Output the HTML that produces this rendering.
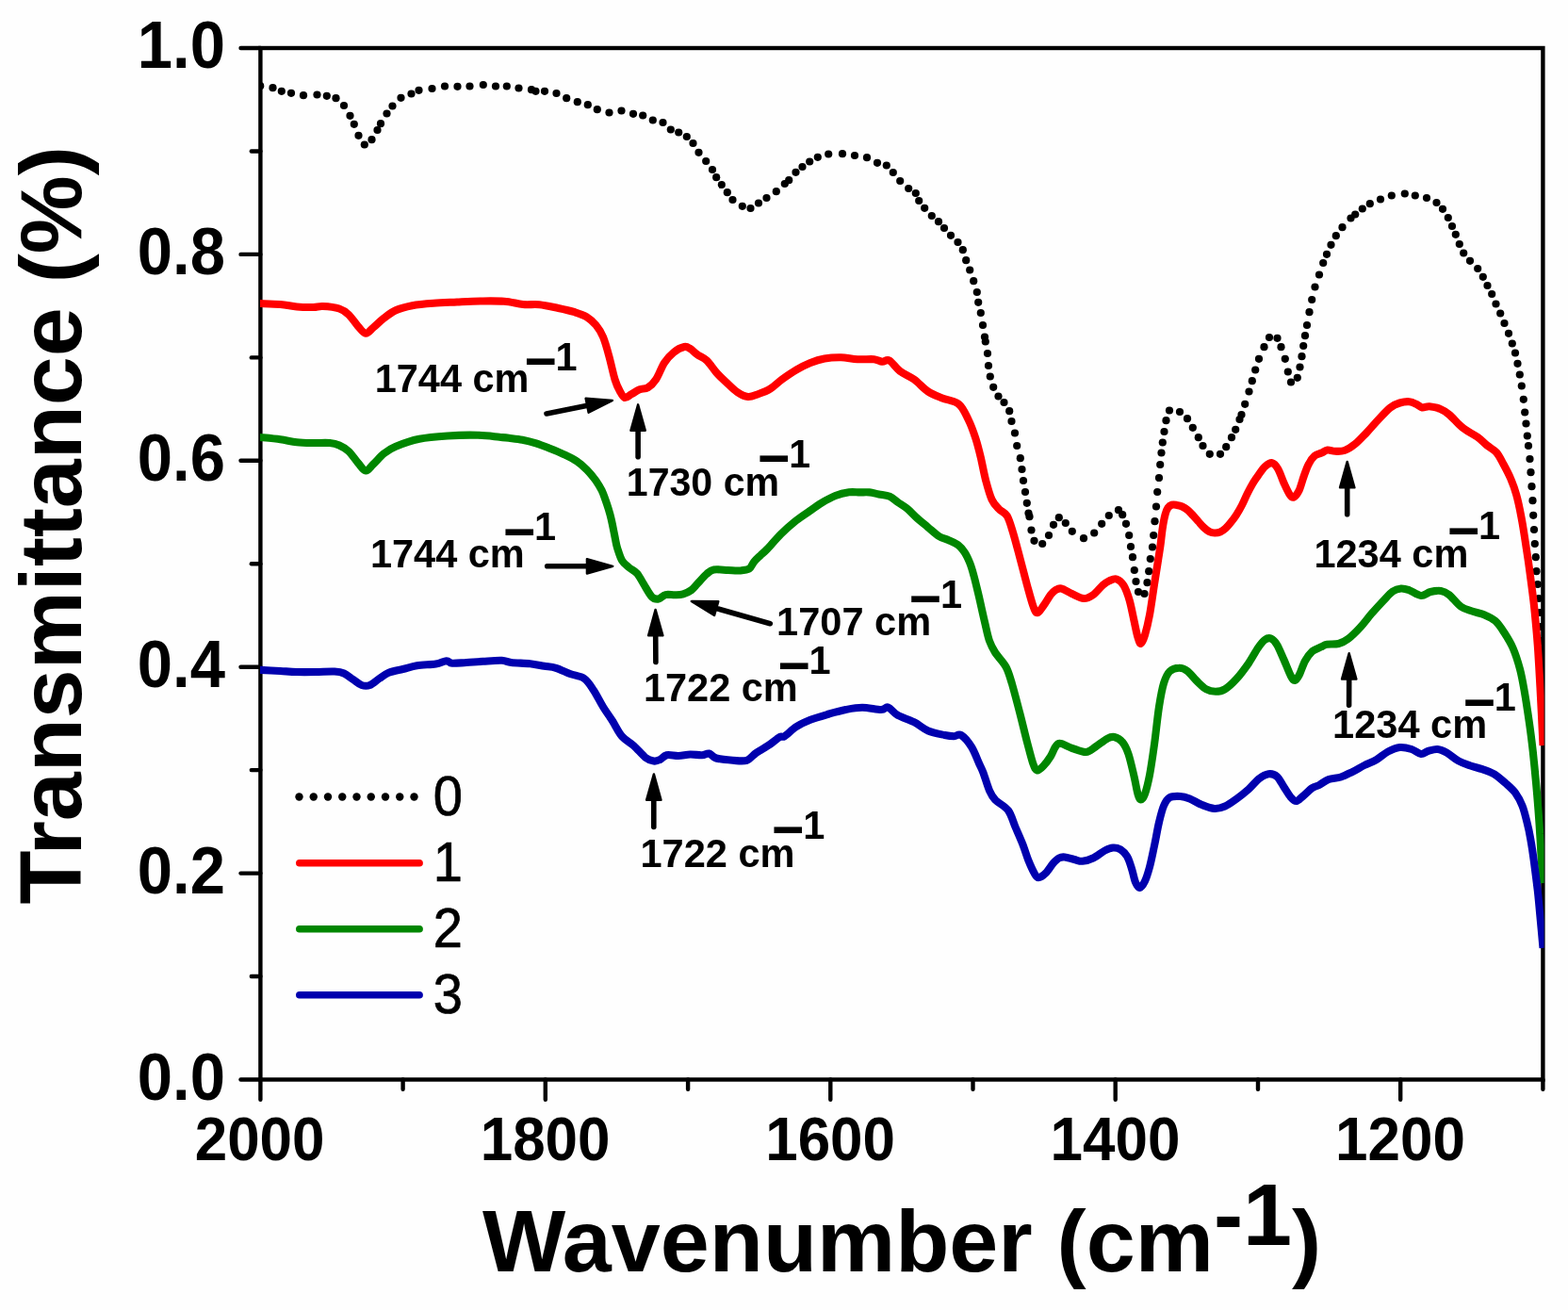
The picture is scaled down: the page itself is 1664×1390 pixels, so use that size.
<!DOCTYPE html>
<html lang="en"><head><meta charset="utf-8"><title>FTIR Transmittance</title>
<style>
html,body{margin:0;padding:0;background:#fff;}
body{width:1664px;height:1390px;overflow:hidden;}
svg{display:block;}
text{font-family:"Liberation Sans",sans-serif;fill:#000;}
.tk{font-weight:bold;font-size:67px;}
.tx{font-weight:bold;font-size:62px;}
.ax{font-weight:bold;font-size:93.5px;}
.ay{font-weight:bold;font-size:93.4px;}
.ann{font-weight:bold;font-size:41.5px;}
.lg{font-size:56px;stroke:#000;stroke-width:0.7px;}
</style></head><body>
<svg width="1664" height="1390" viewBox="0 0 1664 1390">
<rect width="1664" height="1390" fill="#fefefe"/>
<defs><clipPath id="cp"><rect x="276.0" y="40" width="1362.6" height="1105"/></clipPath></defs>

<g stroke="#000" stroke-width="4.4" fill="none" stroke-linecap="round">
<rect x="276.4" y="51.0" width="1361.0" height="1094.5" stroke-linejoin="miter"/>
<line x1="255.5" y1="1145.5" x2="276.4" y2="1145.5"/>
<line x1="266.8" y1="1036.0" x2="276.4" y2="1036.0"/>
<line x1="255.5" y1="926.6" x2="276.4" y2="926.6"/>
<line x1="266.8" y1="817.1" x2="276.4" y2="817.1"/>
<line x1="255.5" y1="707.7" x2="276.4" y2="707.7"/>
<line x1="266.8" y1="598.2" x2="276.4" y2="598.2"/>
<line x1="255.5" y1="488.8" x2="276.4" y2="488.8"/>
<line x1="266.8" y1="379.4" x2="276.4" y2="379.4"/>
<line x1="255.5" y1="269.9" x2="276.4" y2="269.9"/>
<line x1="266.8" y1="160.5" x2="276.4" y2="160.5"/>
<line x1="255.5" y1="51.0" x2="276.4" y2="51.0"/>
<line x1="276.4" y1="1145.5" x2="276.4" y2="1166.7"/>
<line x1="427.6" y1="1145.5" x2="427.6" y2="1155.7"/>
<line x1="578.8" y1="1145.5" x2="578.8" y2="1166.7"/>
<line x1="730.1" y1="1145.5" x2="730.1" y2="1155.7"/>
<line x1="881.3" y1="1145.5" x2="881.3" y2="1166.7"/>
<line x1="1032.5" y1="1145.5" x2="1032.5" y2="1155.7"/>
<line x1="1183.7" y1="1145.5" x2="1183.7" y2="1166.7"/>
<line x1="1335.0" y1="1145.5" x2="1335.0" y2="1155.7"/>
<line x1="1486.2" y1="1145.5" x2="1486.2" y2="1166.7"/>
<line x1="1637.4" y1="1145.5" x2="1637.4" y2="1155.7"/>
</g>
<text class="tk" text-anchor="end" transform="translate(239 1166.5) scale(1 1.04)">0.0</text>
<text class="tk" text-anchor="end" transform="translate(239 947.6) scale(1 1.04)">0.2</text>
<text class="tk" text-anchor="end" transform="translate(239 728.7) scale(1 1.04)">0.4</text>
<text class="tk" text-anchor="end" transform="translate(239 509.8) scale(1 1.04)">0.6</text>
<text class="tk" text-anchor="end" transform="translate(239 290.9) scale(1 1.04)">0.8</text>
<text class="tk" text-anchor="end" transform="translate(239 72.0) scale(1 1.04)">1.0</text>
<text class="tx" text-anchor="middle" transform="translate(275.6 1230.6) scale(1 1.035)">2000</text>
<text class="tx" text-anchor="middle" transform="translate(578.6 1230.6) scale(1 1.035)">1800</text>
<text class="tx" text-anchor="middle" transform="translate(881.1 1230.6) scale(1 1.035)">1600</text>
<text class="tx" text-anchor="middle" transform="translate(1183.5 1230.6) scale(1 1.035)">1400</text>
<text class="tx" text-anchor="middle" transform="translate(1486.0 1230.6) scale(1 1.035)">1200</text>
<text class="ax" x="512" y="1349.2">Wavenumber (cm<tspan dy="-28">-1</tspan><tspan dy="28">)</tspan></text>
<text class="ay" transform="translate(86 959.5) rotate(-90)" x="0" y="0">Transmittance (%)</text>
<g clip-path="url(#cp)" fill="none" stroke-linejoin="round" stroke-linecap="butt">
<g fill="#000" stroke="none">
<circle cx="276.2" cy="91.2" r="4.1"/>
<circle cx="289.5" cy="93.2" r="4.1"/>
<circle cx="298.8" cy="96.8" r="4.1"/>
<circle cx="309.0" cy="98.8" r="4.1"/>
<circle cx="322.0" cy="101.2" r="4.1"/>
<circle cx="336.5" cy="100.5" r="4.1"/>
<circle cx="346.8" cy="101.8" r="4.1"/>
<circle cx="356.5" cy="104.2" r="4.1"/>
<circle cx="365.0" cy="112.0" r="4.1"/>
<circle cx="371.5" cy="122.8" r="4.1"/>
<circle cx="375.8" cy="131.8" r="4.1"/>
<circle cx="380.5" cy="143.8" r="4.1"/>
<circle cx="386.8" cy="153.5" r="4.1"/>
<circle cx="394.5" cy="148.2" r="4.1"/>
<circle cx="400.5" cy="138.0" r="4.1"/>
<circle cx="404.0" cy="131.2" r="4.1"/>
<circle cx="410.5" cy="120.5" r="4.1"/>
<circle cx="416.5" cy="112.5" r="4.1"/>
<circle cx="425.5" cy="103.8" r="4.1"/>
<circle cx="436.5" cy="99.5" r="4.1"/>
<circle cx="444.5" cy="95.8" r="4.1"/>
<circle cx="458.5" cy="94.0" r="4.1"/>
<circle cx="472.0" cy="91.5" r="4.1"/>
<circle cx="485.5" cy="91.8" r="4.1"/>
<circle cx="498.5" cy="91.5" r="4.1"/>
<circle cx="512.8" cy="90.0" r="4.1"/>
<circle cx="526.0" cy="91.5" r="4.1"/>
<circle cx="537.8" cy="91.5" r="4.1"/>
<circle cx="550.5" cy="93.5" r="4.1"/>
<circle cx="564.0" cy="95.2" r="4.1"/>
<circle cx="568.5" cy="96.8" r="4.1"/>
<circle cx="578.0" cy="96.8" r="4.1"/>
<circle cx="590.5" cy="99.0" r="4.1"/>
<circle cx="601.2" cy="104.2" r="4.1"/>
<circle cx="612.8" cy="108.2" r="4.1"/>
<circle cx="623.8" cy="111.2" r="4.1"/>
<circle cx="633.8" cy="116.2" r="4.1"/>
<circle cx="646.5" cy="119.5" r="4.1"/>
<circle cx="659.5" cy="117.5" r="4.1"/>
<circle cx="672.0" cy="120.8" r="4.1"/>
<circle cx="682.2" cy="122.5" r="4.1"/>
<circle cx="692.8" cy="127.5" r="4.1"/>
<circle cx="703.5" cy="130.0" r="4.1"/>
<circle cx="711.8" cy="137.5" r="4.1"/>
<circle cx="720.2" cy="140.5" r="4.1"/>
<circle cx="728.8" cy="145.0" r="4.1"/>
<circle cx="735.5" cy="152.0" r="4.1"/>
<circle cx="741.5" cy="161.8" r="4.1"/>
<circle cx="749.2" cy="171.0" r="4.1"/>
<circle cx="756.0" cy="180.0" r="4.1"/>
<circle cx="760.2" cy="188.2" r="4.1"/>
<circle cx="765.8" cy="196.0" r="4.1"/>
<circle cx="771.8" cy="204.2" r="4.1"/>
<circle cx="777.5" cy="212.0" r="4.1"/>
<circle cx="787.8" cy="218.8" r="4.1"/>
<circle cx="796.5" cy="221.0" r="4.1"/>
<circle cx="805.0" cy="215.5" r="4.1"/>
<circle cx="813.5" cy="210.0" r="4.1"/>
<circle cx="823.8" cy="203.2" r="4.1"/>
<circle cx="832.8" cy="195.0" r="4.1"/>
<circle cx="837.2" cy="191.2" r="4.1"/>
<circle cx="844.5" cy="182.8" r="4.1"/>
<circle cx="851.5" cy="177.0" r="4.1"/>
<circle cx="859.2" cy="171.5" r="4.1"/>
<circle cx="867.8" cy="166.8" r="4.1"/>
<circle cx="879.2" cy="163.5" r="4.1"/>
<circle cx="894.0" cy="163.2" r="4.1"/>
<circle cx="907.0" cy="165.0" r="4.1"/>
<circle cx="920.0" cy="167.2" r="4.1"/>
<circle cx="931.0" cy="172.8" r="4.1"/>
<circle cx="940.8" cy="175.5" r="4.1"/>
<circle cx="947.8" cy="183.0" r="4.1"/>
<circle cx="955.2" cy="192.0" r="4.1"/>
<circle cx="964.2" cy="200.0" r="4.1"/>
<circle cx="971.8" cy="205.0" r="4.1"/>
<circle cx="975.2" cy="213.0" r="4.1"/>
<circle cx="981.2" cy="220.8" r="4.1"/>
<circle cx="988.8" cy="229.0" r="4.1"/>
<circle cx="996.0" cy="235.2" r="4.1"/>
<circle cx="1002.0" cy="242.0" r="4.1"/>
<circle cx="1009.0" cy="249.8" r="4.1"/>
<circle cx="1016.5" cy="257.0" r="4.1"/>
<circle cx="1021.8" cy="265.2" r="4.1"/>
<circle cx="1025.2" cy="276.2" r="4.1"/>
<circle cx="1029.2" cy="286.5" r="4.1"/>
<circle cx="1033.2" cy="298.2" r="4.1"/>
<circle cx="1036.8" cy="310.0" r="4.1"/>
<circle cx="1038.2" cy="320.8" r="4.1"/>
<circle cx="1040.8" cy="332.0" r="4.1"/>
<circle cx="1043.0" cy="345.0" r="4.1"/>
<circle cx="1045.0" cy="357.5" r="4.1"/>
<circle cx="1045.8" cy="362.5" r="4.1"/>
<circle cx="1048.0" cy="375.0" r="4.1"/>
<circle cx="1049.0" cy="388.0" r="4.1"/>
<circle cx="1050.8" cy="399.5" r="4.1"/>
<circle cx="1054.2" cy="410.8" r="4.1"/>
<circle cx="1059.5" cy="420.5" r="4.1"/>
<circle cx="1065.5" cy="427.0" r="4.1"/>
<circle cx="1071.2" cy="436.2" r="4.1"/>
<circle cx="1073.5" cy="447.0" r="4.1"/>
<circle cx="1077.0" cy="459.5" r="4.1"/>
<circle cx="1079.2" cy="473.0" r="4.1"/>
<circle cx="1082.8" cy="486.2" r="4.1"/>
<circle cx="1084.5" cy="498.0" r="4.1"/>
<circle cx="1086.0" cy="510.0" r="4.1"/>
<circle cx="1088.0" cy="522.0" r="4.1"/>
<circle cx="1089.8" cy="533.8" r="4.1"/>
<circle cx="1091.5" cy="544.5" r="4.1"/>
<circle cx="1092.5" cy="548.2" r="4.1"/>
<circle cx="1094.5" cy="562.5" r="4.1"/>
<circle cx="1097.5" cy="573.8" r="4.1"/>
<circle cx="1106.2" cy="577.0" r="4.1"/>
<circle cx="1113.0" cy="568.0" r="4.1"/>
<circle cx="1118.0" cy="556.8" r="4.1"/>
<circle cx="1123.8" cy="549.2" r="4.1"/>
<circle cx="1130.8" cy="555.0" r="4.1"/>
<circle cx="1137.8" cy="563.8" r="4.1"/>
<circle cx="1150.0" cy="571.2" r="4.1"/>
<circle cx="1161.2" cy="565.5" r="4.1"/>
<circle cx="1169.2" cy="555.8" r="4.1"/>
<circle cx="1176.8" cy="547.0" r="4.1"/>
<circle cx="1187.0" cy="541.2" r="4.1"/>
<circle cx="1191.2" cy="546.2" r="4.1"/>
<circle cx="1195.0" cy="555.8" r="4.1"/>
<circle cx="1198.2" cy="568.0" r="4.1"/>
<circle cx="1200.0" cy="580.0" r="4.1"/>
<circle cx="1202.0" cy="591.2" r="4.1"/>
<circle cx="1203.8" cy="605.0" r="4.1"/>
<circle cx="1205.5" cy="617.0" r="4.1"/>
<circle cx="1208.0" cy="628.0" r="4.1"/>
<circle cx="1214.5" cy="630.0" r="4.1"/>
<circle cx="1217.5" cy="618.2" r="4.1"/>
<circle cx="1219.2" cy="606.2" r="4.1"/>
<circle cx="1220.8" cy="593.0" r="4.1"/>
<circle cx="1223.0" cy="580.5" r="4.1"/>
<circle cx="1224.2" cy="568.0" r="4.1"/>
<circle cx="1225.5" cy="553.2" r="4.1"/>
<circle cx="1227.0" cy="537.5" r="4.1"/>
<circle cx="1228.2" cy="522.0" r="4.1"/>
<circle cx="1230.0" cy="507.0" r="4.1"/>
<circle cx="1231.2" cy="493.0" r="4.1"/>
<circle cx="1232.5" cy="480.5" r="4.1"/>
<circle cx="1233.8" cy="469.5" r="4.1"/>
<circle cx="1235.5" cy="458.0" r="4.1"/>
<circle cx="1237.5" cy="446.2" r="4.1"/>
<circle cx="1241.0" cy="435.5" r="4.1"/>
<circle cx="1252.0" cy="437.0" r="4.1"/>
<circle cx="1260.0" cy="444.2" r="4.1"/>
<circle cx="1265.8" cy="453.8" r="4.1"/>
<circle cx="1271.8" cy="464.2" r="4.1"/>
<circle cx="1276.5" cy="473.0" r="4.1"/>
<circle cx="1283.8" cy="481.8" r="4.1"/>
<circle cx="1295.0" cy="481.8" r="4.1"/>
<circle cx="1301.2" cy="474.2" r="4.1"/>
<circle cx="1307.0" cy="464.2" r="4.1"/>
<circle cx="1311.2" cy="455.8" r="4.1"/>
<circle cx="1315.5" cy="445.0" r="4.1"/>
<circle cx="1317.5" cy="440.0" r="4.1"/>
<circle cx="1321.2" cy="428.8" r="4.1"/>
<circle cx="1325.5" cy="415.5" r="4.1"/>
<circle cx="1328.8" cy="404.2" r="4.1"/>
<circle cx="1332.2" cy="392.5" r="4.1"/>
<circle cx="1336.0" cy="380.8" r="4.1"/>
<circle cx="1341.5" cy="368.2" r="4.1"/>
<circle cx="1347.0" cy="358.0" r="4.1"/>
<circle cx="1355.5" cy="358.8" r="4.1"/>
<circle cx="1359.5" cy="368.2" r="4.1"/>
<circle cx="1363.8" cy="380.8" r="4.1"/>
<circle cx="1366.8" cy="394.5" r="4.1"/>
<circle cx="1370.0" cy="405.5" r="4.1"/>
<circle cx="1376.8" cy="400.8" r="4.1"/>
<circle cx="1379.5" cy="389.5" r="4.1"/>
<circle cx="1381.5" cy="378.2" r="4.1"/>
<circle cx="1383.2" cy="367.0" r="4.1"/>
<circle cx="1385.0" cy="356.2" r="4.1"/>
<circle cx="1387.0" cy="345.0" r="4.1"/>
<circle cx="1389.5" cy="331.2" r="4.1"/>
<circle cx="1392.2" cy="318.0" r="4.1"/>
<circle cx="1395.5" cy="304.5" r="4.1"/>
<circle cx="1400.0" cy="291.5" r="4.1"/>
<circle cx="1404.2" cy="279.0" r="4.1"/>
<circle cx="1408.0" cy="269.8" r="4.1"/>
<circle cx="1412.5" cy="259.8" r="4.1"/>
<circle cx="1417.8" cy="250.2" r="4.1"/>
<circle cx="1424.5" cy="241.2" r="4.1"/>
<circle cx="1433.5" cy="231.5" r="4.1"/>
<circle cx="1438.2" cy="227.5" r="4.1"/>
<circle cx="1445.8" cy="221.5" r="4.1"/>
<circle cx="1453.8" cy="216.2" r="4.1"/>
<circle cx="1465.0" cy="211.5" r="4.1"/>
<circle cx="1476.8" cy="207.5" r="4.1"/>
<circle cx="1490.8" cy="205.5" r="4.1"/>
<circle cx="1501.8" cy="207.5" r="4.1"/>
<circle cx="1514.0" cy="210.0" r="4.1"/>
<circle cx="1524.5" cy="215.0" r="4.1"/>
<circle cx="1531.0" cy="221.8" r="4.1"/>
<circle cx="1536.8" cy="231.0" r="4.1"/>
<circle cx="1541.0" cy="240.0" r="4.1"/>
<circle cx="1544.8" cy="248.8" r="4.1"/>
<circle cx="1548.8" cy="259.0" r="4.1"/>
<circle cx="1553.2" cy="268.5" r="4.1"/>
<circle cx="1560.0" cy="276.8" r="4.1"/>
<circle cx="1568.2" cy="285.0" r="4.1"/>
<circle cx="1573.8" cy="293.8" r="4.1"/>
<circle cx="1578.5" cy="303.0" r="4.1"/>
<circle cx="1583.2" cy="312.0" r="4.1"/>
<circle cx="1587.5" cy="322.5" r="4.1"/>
<circle cx="1592.2" cy="332.5" r="4.1"/>
<circle cx="1596.5" cy="343.0" r="4.1"/>
<circle cx="1601.0" cy="353.8" r="4.1"/>
<circle cx="1604.8" cy="364.5" r="4.1"/>
<circle cx="1608.0" cy="374.5" r="4.1"/>
<circle cx="1610.5" cy="385.8" r="4.1"/>
<circle cx="1612.8" cy="397.5" r="4.1"/>
<circle cx="1614.8" cy="409.5" r="4.1"/>
<circle cx="1616.8" cy="423.8" r="4.1"/>
<circle cx="1618.2" cy="437.5" r="4.1"/>
<circle cx="1619.5" cy="449.5" r="4.1"/>
<circle cx="1620.8" cy="462.5" r="4.1"/>
<circle cx="1622.0" cy="473.0" r="4.1"/>
<circle cx="1623.5" cy="487.0" r="4.1"/>
<circle cx="1624.5" cy="501.2" r="4.1"/>
<circle cx="1625.5" cy="516.2" r="4.1"/>
<circle cx="1626.5" cy="531.2" r="4.1"/>
<circle cx="1627.2" cy="546.8" r="4.1"/>
<circle cx="1628.0" cy="562.0" r="4.1"/>
<circle cx="1628.8" cy="577.0" r="4.1"/>
<circle cx="1629.8" cy="591.2" r="4.1"/>
<circle cx="1630.5" cy="606.2" r="4.1"/>
<circle cx="1631.8" cy="620.0" r="4.1"/>
<circle cx="1633.0" cy="635.0" r="4.1"/>
<circle cx="1634.0" cy="650.0" r="4.1"/>
<circle cx="1635.0" cy="665.0" r="4.1"/>
<circle cx="1635.8" cy="680.0" r="4.1"/>
<circle cx="1636.5" cy="695.0" r="4.1"/>
</g>
<path d="M274.4 322.0C278.2 322.2 290.7 322.4 297.5 323.0C304.3 323.6 309.2 325.0 315.0 325.5C320.8 326.0 327.9 326.1 332.5 326.0C337.1 325.9 337.9 324.8 342.5 325.0C347.1 325.2 355.4 326.0 360.0 327.5C364.6 329.0 366.7 330.6 370.0 333.8C373.3 336.9 377.0 342.9 380.0 346.2C383.0 349.6 385.5 353.5 388.2 353.8C391.0 354.0 393.0 350.2 396.2 347.5C399.5 344.8 403.5 340.5 407.5 337.5C411.5 334.5 415.0 331.5 420.0 329.2C425.0 327.0 430.8 325.5 437.5 324.2C444.2 323.0 452.1 322.4 460.0 321.8C467.9 321.1 476.7 320.9 485.0 320.5C493.3 320.1 501.7 319.6 510.0 319.5C518.3 319.4 527.5 319.2 535.0 319.8C542.5 320.3 548.8 322.4 555.0 323.0C561.2 323.6 566.2 322.6 572.5 323.2C578.8 323.9 586.2 325.7 592.5 327.0C598.8 328.3 605.0 329.7 610.0 331.2C615.0 332.8 618.8 334.0 622.5 336.2C626.2 338.5 629.6 341.5 632.5 345.0C635.4 348.5 637.7 352.1 640.0 357.5C642.3 362.9 644.2 370.0 646.2 377.5C648.3 385.0 650.6 396.2 652.5 402.5C654.4 408.8 656.0 411.8 657.8 415.0C659.5 418.2 661.0 421.4 663.0 422.0C665.0 422.6 667.4 419.8 670.0 418.3C672.6 416.9 675.8 414.5 678.8 413.3C681.7 412.1 684.6 413.1 687.5 411.3C690.4 409.5 693.3 406.9 696.2 402.5C699.2 398.1 701.9 389.8 705.0 385.0C708.1 380.2 711.5 376.6 715.0 373.8C718.5 370.9 723.3 368.6 726.2 368.0C729.2 367.4 730.2 368.6 732.5 370.0C734.8 371.4 737.1 374.2 740.0 376.2C742.9 378.3 746.7 379.4 750.0 382.5C753.3 385.6 756.7 391.2 760.0 395.0C763.3 398.8 766.2 401.5 770.0 405.0C773.8 408.5 778.5 413.5 782.5 416.2C786.5 418.9 790.0 420.7 793.8 421.0C797.5 421.3 801.0 419.4 805.0 418.0C809.0 416.6 813.3 415.1 817.5 412.5C821.7 409.9 825.4 405.8 830.0 402.5C834.6 399.2 840.0 395.4 845.0 392.5C850.0 389.6 855.0 387.0 860.0 385.0C865.0 383.0 869.6 381.5 875.0 380.5C880.4 379.5 886.7 379.1 892.5 379.2C898.3 379.4 904.2 380.9 910.0 381.2C915.8 381.6 923.1 380.8 927.5 381.2C931.9 381.7 933.5 383.5 936.2 383.8C939.0 384.0 940.6 380.8 943.8 382.5C946.9 384.2 950.6 390.4 955.0 393.8C959.4 397.1 965.0 398.9 970.0 402.5C975.0 406.1 980.0 412.2 985.0 415.5C990.0 418.8 994.6 420.3 1000.0 422.5C1005.4 424.7 1012.9 425.0 1017.5 428.8C1022.1 432.5 1024.5 439.0 1027.5 445.0C1030.5 451.0 1033.1 458.3 1035.3 465.0C1037.5 471.7 1038.9 477.5 1040.7 485.0C1042.5 492.5 1044.2 502.5 1046.2 510.0C1048.2 517.5 1050.2 525.0 1052.5 530.0C1054.8 535.0 1057.3 537.1 1060.0 540.0C1062.7 542.9 1066.2 543.3 1068.8 547.5C1071.2 551.7 1072.7 557.5 1075.0 565.0C1077.3 572.5 1080.0 583.2 1082.5 592.5C1085.0 601.8 1087.7 612.7 1090.0 621.0C1092.3 629.3 1094.5 637.6 1096.2 642.5C1098.0 647.4 1098.9 650.3 1100.8 650.3C1102.6 650.3 1105.1 645.7 1107.5 642.5C1109.9 639.3 1112.9 633.7 1115.0 631.0C1117.1 628.3 1118.1 627.3 1120.0 626.2C1121.9 625.2 1123.3 623.9 1126.2 624.5C1129.2 625.1 1133.5 628.2 1137.5 630.0C1141.5 631.8 1146.2 634.8 1150.0 635.0C1153.8 635.2 1156.7 633.5 1160.0 631.2C1163.3 629.0 1167.1 623.8 1170.0 621.2C1172.9 618.8 1175.0 617.4 1177.5 616.2C1180.0 615.1 1182.5 613.7 1185.0 614.5C1187.5 615.3 1190.2 617.4 1192.5 621.2C1194.8 625.1 1196.9 631.0 1198.8 637.5C1200.6 644.0 1202.3 653.5 1203.8 660.0C1205.2 666.5 1206.3 672.5 1207.5 676.2C1208.7 680.0 1209.5 683.2 1210.8 682.8C1212.0 682.4 1213.5 678.8 1215.0 673.8C1216.5 668.7 1218.3 661.5 1220.0 652.5C1221.7 643.5 1223.5 629.4 1225.0 620.0C1226.5 610.6 1227.7 602.8 1228.8 596.0C1229.8 589.2 1230.6 585.1 1231.4 579.3C1232.2 573.5 1232.8 566.8 1233.6 561.3C1234.4 555.8 1235.5 549.8 1236.5 546.1C1237.5 542.4 1238.2 540.6 1239.4 538.9C1240.6 537.2 1242.2 536.2 1243.7 535.7C1245.2 535.2 1246.9 535.6 1248.7 535.9C1250.5 536.2 1252.6 536.6 1254.5 537.5C1256.4 538.4 1258.4 539.5 1260.3 541.1C1262.2 542.7 1264.1 544.9 1266.0 546.9C1267.9 548.9 1269.9 551.2 1271.8 553.4C1273.7 555.5 1275.7 558.0 1277.6 559.8C1279.5 561.6 1281.5 563.2 1283.4 564.2C1285.3 565.2 1287.2 565.5 1289.1 565.5C1291.0 565.5 1293.0 565.3 1294.9 564.5C1296.8 563.7 1298.8 562.3 1300.7 560.6C1302.6 558.9 1304.5 556.5 1306.4 554.1C1308.3 551.7 1310.3 549.1 1312.2 546.1C1314.1 543.1 1316.1 539.7 1318.0 536.0C1319.9 532.3 1321.8 527.6 1323.7 523.8C1325.6 520.0 1327.6 516.2 1329.5 513.0C1331.4 509.8 1333.1 507.3 1335.3 504.3C1337.5 501.3 1340.0 497.2 1342.5 495.0C1345.0 492.8 1347.7 490.8 1350.0 491.2C1352.3 491.7 1354.2 494.0 1356.2 497.5C1358.3 501.0 1360.4 507.9 1362.5 512.5C1364.6 517.1 1367.0 522.5 1368.8 525.0C1370.5 527.5 1371.3 528.3 1373.0 527.5C1374.7 526.7 1377.0 523.8 1378.8 520.0C1380.5 516.2 1382.1 509.6 1383.8 505.0C1385.4 500.4 1386.9 496.0 1388.8 492.5C1390.6 489.0 1392.7 485.8 1395.0 483.8C1397.3 481.8 1400.2 481.5 1402.5 480.5C1404.8 479.5 1406.4 477.8 1408.8 477.5C1411.1 477.2 1413.8 478.7 1416.8 478.8C1419.8 478.8 1423.2 479.2 1426.8 478.0C1430.3 476.8 1434.0 474.5 1438.0 471.2C1442.0 468.0 1446.3 463.1 1450.5 458.8C1454.7 454.4 1458.8 449.4 1463.0 445.0C1467.2 440.6 1471.8 435.4 1475.5 432.5C1479.2 429.6 1482.2 428.5 1485.5 427.5C1488.8 426.5 1492.6 426.0 1495.5 426.2C1498.4 426.5 1500.7 427.7 1503.0 428.8C1505.3 429.8 1507.0 432.1 1509.2 432.5C1511.5 432.9 1513.6 431.0 1516.8 431.2C1519.9 431.5 1524.5 432.3 1528.0 433.8C1531.5 435.2 1534.7 437.3 1538.0 440.0C1541.3 442.7 1545.1 447.3 1548.0 450.0C1550.9 452.7 1552.2 454.0 1555.5 456.2C1558.8 458.5 1564.2 461.0 1568.0 463.8C1571.8 466.5 1574.7 469.8 1578.0 472.5C1581.3 475.2 1585.1 476.7 1588.0 480.0C1590.9 483.3 1593.0 487.9 1595.5 492.5C1598.0 497.1 1600.7 502.1 1603.0 507.5C1605.3 512.9 1607.4 518.3 1609.2 525.0C1611.1 531.7 1612.8 540.0 1614.2 547.5C1615.7 555.0 1616.8 562.1 1618.0 570.0C1619.2 577.9 1620.5 586.2 1621.8 595.0C1623.0 603.8 1624.4 613.8 1625.5 622.5C1626.6 631.2 1627.5 637.1 1628.5 647.5C1629.5 657.9 1630.8 671.2 1631.8 685.0C1632.8 698.8 1633.5 712.3 1634.5 730.0C1635.5 747.7 1637.0 780.8 1637.5 791.0" stroke="#ff0000" stroke-width="8.1"/>
<path d="M274.4 463.8C278.2 464.2 290.7 465.3 297.5 466.2C304.3 467.2 309.2 468.6 315.0 469.2C320.8 469.9 326.7 469.9 332.5 470.0C338.3 470.1 345.4 469.6 350.0 470.0C354.6 470.4 356.7 471.0 360.0 472.5C363.3 474.0 366.7 475.6 370.0 478.8C373.3 481.9 377.0 487.8 380.0 491.2C383.0 494.7 385.5 499.3 388.2 499.5C391.0 499.7 393.0 495.5 396.2 492.5C399.5 489.5 403.5 484.4 407.5 481.2C411.5 478.1 413.8 476.3 420.0 473.8C426.2 471.2 435.8 467.6 445.0 465.8C454.2 463.9 464.6 463.2 475.0 462.5C485.4 461.8 498.3 461.5 507.5 461.8C516.7 462.0 524.6 463.3 530.0 463.8C535.4 464.3 535.9 464.3 540.0 464.8C544.1 465.3 549.6 465.8 554.4 466.7C559.2 467.6 564.0 468.8 568.8 470.3C573.6 471.8 578.5 473.8 583.3 475.7C588.1 477.6 592.9 479.5 597.7 481.8C602.5 484.1 607.9 486.6 612.1 489.4C616.3 492.2 619.5 495.2 622.9 498.6C626.3 502.0 629.6 506.2 632.3 509.9C634.9 513.6 637.1 517.4 638.8 520.7C640.4 524.0 641.0 526.2 642.2 529.5C643.4 532.8 644.7 536.7 645.8 540.3C646.9 543.9 647.8 547.1 648.7 551.0C649.6 554.9 650.6 559.9 651.3 563.5C652.0 567.1 652.5 569.5 653.1 572.5C653.7 575.5 653.9 577.7 655.1 581.4C656.3 585.1 658.1 591.3 660.1 594.7C662.1 598.1 664.6 599.7 667.3 602.0C669.9 604.3 673.4 605.3 676.0 608.3C678.6 611.3 680.6 615.7 683.2 619.9C685.8 624.1 689.2 630.7 691.8 633.3C694.4 635.9 696.6 635.9 699.0 635.5C701.4 635.1 703.4 631.8 706.3 631.1C709.2 630.4 713.3 631.4 716.4 631.3C719.5 631.2 722.1 631.3 725.0 630.4C727.9 629.5 731.2 627.9 733.7 626.1C736.2 624.3 737.3 622.4 740.0 619.5C742.7 616.6 747.1 611.5 750.0 609.0C752.9 606.5 753.8 605.2 757.5 604.5C761.2 603.8 767.9 604.8 772.5 605.0C777.1 605.2 781.2 605.8 785.0 605.5C788.8 605.2 792.5 605.0 795.0 603.5C797.5 602.0 798.0 598.7 800.0 596.3C802.0 593.9 804.6 591.6 807.0 589.3C809.4 587.0 810.8 586.2 814.4 582.4C818.0 578.6 824.0 571.5 828.8 566.7C833.6 561.9 838.5 557.6 843.3 553.7C848.1 549.8 852.9 546.8 857.7 543.4C862.5 540.0 867.3 536.4 872.1 533.5C876.9 530.6 881.7 527.9 886.5 526.0C891.3 524.1 896.7 522.9 901.0 522.3C905.3 521.7 908.9 522.4 912.5 522.4C916.1 522.4 919.2 522.1 922.6 522.4C926.0 522.7 929.1 523.7 932.7 524.4C936.3 525.1 940.8 525.3 944.2 526.7C947.6 528.1 949.8 530.8 952.9 533.0C956.0 535.2 959.6 537.1 963.0 539.9C966.4 542.7 969.5 546.4 973.1 549.6C976.7 552.8 980.8 556.1 984.6 559.3C988.5 562.5 992.6 566.5 996.2 568.8C999.8 571.1 1002.9 571.5 1006.3 573.0C1009.7 574.5 1013.5 575.8 1016.4 578.0C1019.3 580.2 1021.5 582.8 1023.6 586.0C1025.8 589.2 1027.6 593.3 1029.3 597.5C1031.0 601.7 1031.9 605.2 1033.5 611.0C1035.1 616.8 1036.8 624.3 1038.8 632.5C1040.7 640.7 1043.1 652.1 1045.0 660.0C1046.9 667.9 1048.1 674.6 1050.0 680.0C1051.9 685.4 1053.3 687.9 1056.2 692.5C1059.2 697.1 1064.6 702.1 1067.5 707.5C1070.4 712.9 1071.2 716.7 1073.8 725.0C1076.2 733.3 1079.8 747.1 1082.5 757.5C1085.2 767.9 1087.7 778.8 1090.0 787.5C1092.3 796.2 1094.5 805.0 1096.2 810.0C1098.0 815.0 1098.9 817.1 1100.8 817.5C1102.6 817.9 1105.1 815.0 1107.5 812.5C1109.9 810.0 1112.9 805.8 1115.0 802.5C1117.1 799.2 1118.3 794.8 1120.0 792.5C1121.7 790.2 1122.1 788.5 1125.0 788.8C1127.9 789.0 1132.9 792.2 1137.5 793.8C1142.1 795.3 1148.3 798.2 1152.5 798.0C1156.7 797.8 1158.8 794.9 1162.5 792.5C1166.2 790.1 1171.7 785.5 1175.0 783.8C1178.3 782.0 1179.8 781.4 1182.5 782.0C1185.2 782.6 1188.8 784.5 1191.2 787.5C1193.8 790.5 1195.4 793.8 1197.5 800.0C1199.6 806.2 1202.1 817.9 1203.8 825.0C1205.4 832.1 1206.3 838.6 1207.5 842.5C1208.7 846.4 1209.5 848.5 1210.8 848.5C1212.0 848.5 1213.5 846.8 1215.0 842.5C1216.5 838.2 1218.3 831.2 1220.0 822.5C1221.7 813.8 1223.3 802.1 1225.0 790.0C1226.7 777.9 1228.3 760.8 1230.0 750.0C1231.7 739.2 1233.1 731.2 1235.0 725.0C1236.9 718.8 1238.5 715.2 1241.2 712.5C1244.0 709.8 1248.1 708.8 1251.2 708.8C1254.4 708.7 1256.9 709.7 1260.0 712.0C1263.1 714.3 1266.7 719.3 1270.0 722.5C1273.3 725.7 1276.7 729.4 1280.0 731.2C1283.3 733.1 1286.7 733.8 1290.0 733.8C1293.3 733.8 1296.2 733.5 1300.0 731.2C1303.8 729.0 1308.3 724.6 1312.5 720.0C1316.7 715.4 1321.2 709.2 1325.0 703.8C1328.8 698.3 1332.1 691.7 1335.0 687.5C1337.9 683.3 1340.2 680.4 1342.5 678.8C1344.8 677.1 1346.7 676.7 1348.8 677.5C1350.8 678.3 1352.7 680.0 1355.0 683.8C1357.3 687.5 1360.0 694.4 1362.5 700.0C1365.0 705.6 1368.0 713.8 1370.0 717.5C1372.0 721.2 1372.8 722.2 1374.2 722.0C1375.7 721.8 1377.0 719.7 1378.8 716.2C1380.5 712.8 1382.7 705.4 1385.0 701.2C1387.3 697.1 1389.6 693.8 1392.5 691.2C1395.4 688.8 1399.9 687.5 1402.5 686.2C1405.1 685.0 1405.0 684.3 1408.0 683.8C1411.0 683.2 1416.8 684.0 1420.5 683.0C1424.2 682.0 1426.8 680.8 1430.5 678.0C1434.2 675.2 1438.8 670.7 1443.0 666.2C1447.2 661.8 1451.3 656.0 1455.5 651.2C1459.7 646.5 1464.2 641.5 1468.0 637.5C1471.8 633.5 1474.9 629.7 1478.0 627.5C1481.1 625.3 1483.8 624.7 1486.8 624.5C1489.7 624.3 1492.0 625.0 1495.5 626.2C1499.0 627.5 1504.2 631.7 1508.0 632.0C1511.8 632.3 1514.5 628.8 1518.0 628.0C1521.5 627.2 1525.9 626.5 1529.2 627.0C1532.6 627.5 1534.5 628.5 1538.0 631.2C1541.5 634.0 1546.3 640.8 1550.5 643.8C1554.7 646.7 1558.8 647.3 1563.0 648.8C1567.2 650.2 1571.5 650.8 1575.5 652.5C1579.5 654.2 1583.4 655.8 1586.8 658.8C1590.1 661.7 1592.4 665.2 1595.5 670.0C1598.6 674.8 1602.6 680.8 1605.5 687.5C1608.4 694.2 1610.9 702.1 1613.0 710.0C1615.1 717.9 1616.3 725.4 1618.0 735.0C1619.7 744.6 1621.5 757.1 1623.0 767.5C1624.5 777.9 1625.6 787.1 1626.8 797.5C1627.9 807.9 1629.0 819.6 1630.0 830.0C1631.0 840.4 1631.8 850.8 1632.5 860.0C1633.2 869.2 1633.8 877.1 1634.2 885.0C1634.8 892.9 1635.0 898.8 1635.5 907.5C1636.0 916.2 1637.2 932.1 1637.5 937.0" stroke="#008600" stroke-width="8.1"/>
<path d="M274.4 710.8C278.2 711.0 290.7 711.6 297.5 712.0C304.3 712.4 308.8 712.8 315.0 713.0C321.2 713.2 328.3 713.1 335.0 713.0C341.7 712.9 350.0 712.2 355.0 712.5C360.0 712.8 361.7 713.0 365.0 714.5C368.3 716.0 371.9 719.2 375.0 721.2C378.1 723.3 380.8 726.0 383.8 727.0C386.7 728.0 389.4 728.2 392.5 727.0C395.6 725.8 399.2 722.2 402.5 720.0C405.8 717.8 408.3 715.4 412.5 713.8C416.7 712.1 422.5 711.2 427.5 710.0C432.5 708.8 436.7 707.2 442.5 706.2C448.3 705.3 457.3 705.3 462.5 704.5C467.7 703.7 470.8 701.4 473.8 701.2C476.7 701.1 476.5 703.5 480.0 703.8C483.5 704.0 489.6 703.3 495.0 703.0C500.4 702.7 506.2 702.1 512.5 701.8C518.8 701.4 527.5 700.5 532.5 700.8C537.5 701.0 537.5 702.4 542.5 703.0C547.5 703.6 556.7 703.6 562.5 704.2C568.3 704.9 572.9 706.0 577.5 706.8C582.1 707.5 585.4 707.4 590.0 708.8C594.6 710.1 600.0 713.1 605.0 715.0C610.0 716.9 615.8 717.1 620.0 720.0C624.2 722.9 626.7 727.5 630.0 732.5C633.3 737.5 636.7 744.6 640.0 750.0C643.3 755.4 646.7 759.8 650.0 765.0C653.3 770.2 656.2 776.9 660.0 781.2C663.8 785.6 668.3 787.5 672.5 791.2C676.7 795.0 681.5 801.0 685.0 803.8C688.5 806.5 691.2 807.1 693.8 807.5C696.2 807.9 697.7 807.3 700.0 806.2C702.3 805.2 704.2 802.0 707.5 801.2C710.8 800.5 715.8 802.1 720.0 802.0C724.2 801.9 728.3 800.6 732.5 800.5C736.7 800.4 741.7 801.4 745.0 801.2C748.3 801.1 750.0 799.0 752.5 799.5C755.0 800.0 755.8 803.3 760.0 804.5C764.2 805.7 772.1 806.4 777.5 806.8C782.9 807.1 788.3 808.1 792.5 806.8C796.7 805.4 798.8 801.3 802.5 798.8C806.2 796.2 810.8 794.0 815.0 791.2C819.2 788.5 824.6 783.7 827.5 782.0C830.4 780.3 829.6 783.0 832.5 781.2C835.4 779.5 840.4 774.2 845.0 771.2C849.6 768.3 854.2 766.0 860.0 763.8C865.8 761.5 873.8 759.3 880.0 757.5C886.2 755.7 891.7 754.1 897.5 753.0C903.3 751.9 908.8 750.8 915.0 750.8C921.2 750.8 930.4 753.0 935.0 753.0C939.6 753.0 939.6 749.5 942.5 750.5C945.4 751.5 947.9 756.1 952.5 758.8C957.1 761.4 964.6 763.5 970.0 766.2C975.4 769.0 979.6 773.2 985.0 775.5C990.4 777.8 997.9 779.0 1002.5 780.0C1007.1 781.0 1009.6 781.2 1012.5 781.2C1015.4 781.2 1016.9 778.1 1020.0 780.0C1023.1 781.9 1027.8 787.5 1031.0 792.5C1034.2 797.5 1036.9 805.4 1039.0 810.0C1041.1 814.6 1041.7 815.2 1043.5 820.0C1045.3 824.8 1047.9 834.0 1050.0 838.8C1052.1 843.5 1052.9 845.2 1056.2 848.8C1059.6 852.3 1066.5 855.2 1070.0 860.0C1073.5 864.8 1075.0 871.7 1077.5 877.5C1080.0 883.3 1082.7 889.2 1085.0 895.0C1087.3 900.8 1089.2 907.3 1091.2 912.5C1093.3 917.7 1095.7 923.1 1097.5 926.2C1099.3 929.4 1099.9 931.2 1102.0 931.2C1104.1 931.2 1107.4 928.8 1110.0 926.2C1112.6 923.8 1115.2 918.9 1117.5 916.2C1119.8 913.6 1121.7 911.6 1123.8 910.5C1125.8 909.4 1127.3 909.2 1130.0 909.5C1132.7 909.8 1136.9 911.3 1140.0 912.0C1143.1 912.7 1145.4 914.0 1148.8 913.8C1152.1 913.5 1156.0 912.4 1160.0 910.5C1164.0 908.6 1169.0 904.3 1172.5 902.5C1176.0 900.7 1178.5 899.7 1181.2 899.5C1184.0 899.3 1186.2 899.7 1188.8 901.2C1191.2 902.8 1194.2 905.2 1196.2 908.8C1198.3 912.3 1199.8 917.9 1201.2 922.5C1202.7 927.1 1203.6 933.0 1205.0 936.2C1206.4 939.5 1207.8 942.2 1209.5 942.0C1211.2 941.8 1213.2 938.7 1215.0 935.0C1216.8 931.3 1218.3 926.2 1220.0 920.0C1221.7 913.8 1223.3 905.4 1225.0 897.5C1226.7 889.6 1228.3 879.6 1230.0 872.5C1231.7 865.4 1233.1 859.4 1235.0 855.0C1236.9 850.6 1238.3 847.9 1241.2 846.2C1244.2 844.6 1249.0 844.8 1252.5 845.0C1256.0 845.2 1258.8 846.0 1262.5 847.5C1266.2 849.0 1270.6 852.0 1275.0 853.8C1279.4 855.5 1284.6 857.7 1288.8 858.0C1292.9 858.3 1296.0 857.2 1300.0 855.5C1304.0 853.8 1308.3 850.5 1312.5 847.5C1316.7 844.5 1321.0 841.0 1325.0 837.5C1329.0 834.0 1332.7 829.0 1336.2 826.2C1339.8 823.5 1343.1 821.7 1346.2 821.2C1349.4 820.8 1352.3 821.5 1355.0 823.8C1357.7 826.0 1360.0 831.2 1362.5 835.0C1365.0 838.8 1367.8 843.8 1370.0 846.2C1372.2 848.8 1373.7 850.2 1375.8 850.0C1377.8 849.8 1379.7 847.3 1382.5 845.0C1385.3 842.7 1389.6 838.2 1392.5 836.2C1395.4 834.2 1397.1 834.5 1400.0 833.0C1402.9 831.5 1406.2 828.4 1410.0 827.0C1413.8 825.6 1418.8 825.9 1423.0 824.5C1427.2 823.1 1431.3 820.8 1435.5 818.8C1439.7 816.7 1443.8 814.1 1448.0 812.0C1452.2 809.9 1456.3 808.7 1460.5 806.2C1464.7 803.8 1468.8 799.7 1473.0 797.5C1477.2 795.3 1481.3 793.4 1485.5 793.0C1489.7 792.6 1494.2 793.8 1498.0 795.0C1501.8 796.2 1505.1 799.7 1508.0 800.0C1510.9 800.3 1512.6 797.8 1515.5 797.0C1518.4 796.2 1522.2 794.7 1525.5 795.0C1528.8 795.3 1531.8 796.7 1535.5 798.8C1539.2 800.8 1543.8 805.2 1548.0 807.5C1552.2 809.8 1556.3 811.0 1560.5 812.5C1564.7 814.0 1568.8 814.8 1573.0 816.2C1577.2 817.7 1581.3 818.8 1585.5 821.2C1589.7 823.8 1594.2 827.9 1598.0 831.2C1601.8 834.6 1605.1 837.3 1608.0 841.2C1610.9 845.2 1613.4 849.8 1615.5 855.0C1617.6 860.2 1619.0 866.7 1620.5 872.5C1622.0 878.3 1623.0 882.9 1624.2 890.0C1625.5 897.1 1626.8 905.8 1628.0 915.0C1629.2 924.2 1630.7 935.8 1631.8 945.0C1632.8 954.2 1633.3 959.8 1634.2 970.0C1635.2 980.2 1637.0 1000.0 1637.5 1006.0" stroke="#0000ae" stroke-width="8.1"/>
</g>
<g fill="#000">
<circle cx="317.50" cy="845.5" r="4.2"/>
<circle cx="332.75" cy="845.5" r="4.2"/>
<circle cx="348.00" cy="845.5" r="4.2"/>
<circle cx="363.25" cy="845.5" r="4.2"/>
<circle cx="378.50" cy="845.5" r="4.2"/>
<circle cx="393.75" cy="845.5" r="4.2"/>
<circle cx="409.00" cy="845.5" r="4.2"/>
<circle cx="424.25" cy="845.5" r="4.2"/>
<circle cx="439.50" cy="845.5" r="4.2"/>
</g>
<g stroke-width="7.6" stroke-linecap="round">
<line x1="317.8" y1="915.8" x2="445.1" y2="915.8" stroke="#ff0000"/>
<line x1="317.8" y1="985.8" x2="445.1" y2="985.8" stroke="#008600"/>
<line x1="317.8" y1="1055.8" x2="445.1" y2="1055.8" stroke="#0000ae"/>
</g>
<text class="lg" transform="translate(459.7 865.2) scale(1 1.07)">0</text>
<text class="lg" transform="translate(459.7 935.2) scale(1 1.07)">1</text>
<text class="lg" transform="translate(459.7 1005.2) scale(1 1.07)">2</text>
<text class="lg" transform="translate(459.7 1075.2) scale(1 1.07)">3</text>
<line x1="580.0" y1="438.9" x2="624.8" y2="429.9" stroke="#000" stroke-width="5.6" stroke-linecap="round"/><polygon points="649.9,424.9 624.6,437.8 621.6,422.7" fill="#000" stroke="#000" stroke-width="2.4" stroke-linejoin="round"/>
<line x1="580.7" y1="600.8" x2="624.7" y2="600.8" stroke="#000" stroke-width="5.6" stroke-linecap="round"/><polygon points="650.3,600.8 622.9,608.5 622.9,593.1" fill="#000" stroke="#000" stroke-width="2.4" stroke-linejoin="round"/>
<line x1="677.1" y1="484.8" x2="677.1" y2="454.9" stroke="#000" stroke-width="5.6" stroke-linecap="round"/><polygon points="677.1,429.3 684.8,456.7 669.4,456.7" fill="#000" stroke="#000" stroke-width="2.4" stroke-linejoin="round"/>
<line x1="695.9" y1="702.5" x2="695.7" y2="672.5" stroke="#000" stroke-width="5.6" stroke-linecap="round"/><polygon points="695.6,646.9 703.4,674.3 688.1,674.3" fill="#000" stroke="#000" stroke-width="2.4" stroke-linejoin="round"/>
<line x1="817.3" y1="661.7" x2="758.5" y2="645.0" stroke="#000" stroke-width="5.6" stroke-linecap="round"/><polygon points="733.8,638.0 762.3,638.1 758.1,652.9" fill="#000" stroke="#000" stroke-width="2.4" stroke-linejoin="round"/>
<line x1="693.8" y1="877.5" x2="693.8" y2="847.0" stroke="#000" stroke-width="5.6" stroke-linecap="round"/><polygon points="693.9,821.4 701.5,848.8 686.1,848.8" fill="#000" stroke="#000" stroke-width="2.4" stroke-linejoin="round"/>
<line x1="1429.7" y1="545.7" x2="1429.7" y2="515.5" stroke="#000" stroke-width="5.6" stroke-linecap="round"/><polygon points="1429.7,489.9 1437.4,517.3 1422.0,517.3" fill="#000" stroke="#000" stroke-width="2.4" stroke-linejoin="round"/>
<line x1="1431.6" y1="748.3" x2="1431.7" y2="718.7" stroke="#000" stroke-width="5.6" stroke-linecap="round"/><polygon points="1431.7,693.2 1439.4,720.6 1424.0,720.5" fill="#000" stroke="#000" stroke-width="2.4" stroke-linejoin="round"/>
<text class="ann" style="font-size:41.49px" transform="translate(397.7 416.1) scale(1 1.03)">1744 cm<tspan x="158.8" y="-11.5" style="font-size:59px">−</tspan><tspan x="191.9" y="-22.6">1</tspan></text>
<text class="ann" style="font-size:41.53px" transform="translate(392.9 601.9) scale(1 1.03)">1744 cm<tspan x="141.1" y="-16.6" style="font-size:59px">−</tspan><tspan x="174.2" y="-27.6">1</tspan></text>
<text class="ann" style="font-size:41.10px" transform="translate(664.8 525.9) scale(1 1.03)">1730 cm<tspan x="139.2" y="-18.3" style="font-size:59px">−</tspan><tspan x="172.4" y="-29.1">1</tspan></text>
<text class="ann" style="font-size:41.57px" transform="translate(824.1 673.6) scale(1 1.03)">1707 cm<tspan x="140.7" y="-17.2" style="font-size:59px">−</tspan><tspan x="173.8" y="-28.0">1</tspan></text>
<text class="ann" style="font-size:41.53px" transform="translate(682.9 743.6) scale(1 1.03)">1722 cm<tspan x="142.5" y="-16.6" style="font-size:59px">−</tspan><tspan x="175.6" y="-27.6">1</tspan></text>
<text class="ann" style="font-size:41.57px" transform="translate(679.4 919.8) scale(1 1.03)">1722 cm<tspan x="139.7" y="-18.1" style="font-size:59px">−</tspan><tspan x="172.8" y="-29.1">1</tspan></text>
<text class="ann" style="font-size:41.54px" transform="translate(1394.4 602.3) scale(1 1.03)">1234 cm<tspan x="141.6" y="-17.7" style="font-size:59px">−</tspan><tspan x="174.5" y="-29.1">1</tspan></text>
<text class="ann" style="font-size:41.57px" transform="translate(1414.1 783.4) scale(1 1.03)">1234 cm<tspan x="138.6" y="-17.0" style="font-size:59px">−</tspan><tspan x="171.7" y="-28.3">1</tspan></text>
</svg></body></html>
